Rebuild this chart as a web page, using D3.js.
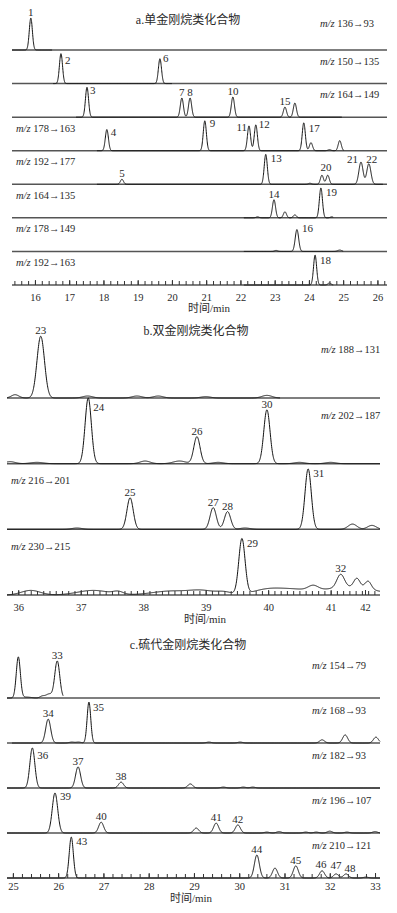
<!DOCTYPE html>
<html>
<head>
<meta charset="utf-8">
<script src="https://cdn.jsdelivr.net/npm/d3@7/dist/d3.min.js"></script>
<style>
  body { margin: 0; background: #fff; }
  text { font-family: "Liberation Serif", "Times New Roman", "Noto Sans CJK SC", serif; fill: #2a2a2a; }
</style>
</head>
<body>
<div id="chart"></div>
<script>
// ---- panel a : 单金刚烷类 ----
var aTitle = "a.单金刚烷类化合物";
var aIons = ["136→93", "150→135", "164→149", "178→163", "192→177", "164→135", "178→149", "192→163"];
var aIonSide = ["r", "r", "r", "l", "l", "l", "l", "l"];
var aSpans = [[15.33, 16.5], [16.53, 20.0], [17.2, 24.96], [17.81, 25.02], [17.81, 26.16], [22.1, 24.71], [22.1, 25.0], [22.1, 24.71]];
// [label, retention time (min), relative intensity (%), width (min, optional)]
var aPeaks = [
  [["1", 15.88, 95]],
  [["2", 16.76, 89], ["6", 19.65, 74]],
  [["3", 17.52, 89], ["7", 20.29, 57], ["8", 20.53, 57], ["10", 21.78, 60], ["15", 23.30, 30], ["", 23.59, 42]],
  [["4", 18.10, 63], ["9", 20.96, 89], ["11", 22.25, 74], ["12", 22.45, 77], ["17", 23.85, 83], ["", 24.06, 24], ["", 24.6, 3], ["", 24.9, 30]],
  [["5", 18.54, 15], ["13", 22.74, 89], ["", 24.03, 3], ["20", 24.38, 27], ["", 24.55, 27], ["21", 25.52, 66, 0.06], ["22", 25.75, 61, 0.06]],
  [["", 22.5, 3], ["14", 22.98, 54], ["", 23.30, 18], ["", 23.59, 9], ["19", 24.35, 89], ["", 24.67, 3]],
  [["", 23.04, 3], ["16", 23.65, 65, 0.05], ["", 24.9, 4, 0.06]],
  [["18", 24.18, 89], ["", 24.6, 6]]
];
var aTicks = [16, 17, 18, 19, 20, 21, 22, 23, 24, 25, 26];

// ---- panel b : 双金刚烷类 ----
var bTitle = "b.双金刚烷类化合物";
var bIons = ["188→131", "202→187", "216→201", "230→215"];
var bIonSide = ["r", "r", "l", "l"];
var bSpans = [[35.82, 40.19], [35.82, 41.79], [35.82, 41.79], [35.82, 41.79]];
var bPeaks = [
  [["", 35.95, 5, 0.06], ["23", 36.36, 94, 0.06], ["", 37.11, 3, 0.08], ["", 37.9, 3, 0.08], ["", 38.24, 3, 0.08], ["", 39.0, 2, 0.08], ["", 39.98, 4, 0.08]],
  [["", 35.87, 3, 0.08], ["", 36.3, 2, 0.1], ["24", 37.12, 100], ["", 38.03, 4, 0.08], ["", 38.58, 4, 0.1], ["26", 38.86, 41], ["", 39.2, 2, 0.08], ["30", 39.98, 82], ["", 40.5, 2, 0.08], ["", 41.0, 2, 0.08]],
  [["", 36.94, 2, 0.08], ["25", 37.79, 48], ["27", 39.12, 33], ["28", 39.35, 27], ["", 39.63, 2, 0.08], ["31", 40.64, 92], ["", 41.35, 8, 0.07], ["", 41.66, 6, 0.07]],
  [["", 36.2, 7, 0.15], ["", 37.2, 7, 0.25], ["", 37.6, 4, 0.08], ["", 38.45, 6, 0.3], ["", 38.95, 6, 0.2], ["", 39.3, 4, 0.12],
   ["29", 39.58, 84], ["", 39.95, 6, 0.22], ["", 40.35, 8, 0.3], ["", 40.72, 7, 0.08], ["", 41.3, 12, 0.4],
   ["32", 41.16, 20, 0.06], ["", 41.42, 14, 0.05], ["", 41.6, 12, 0.05]]
];
var bTickPos = [36, 37, 38, 39, 40, 41, 41.55];
var bTickText = ["36", "37", "38", "39", "40", "41", "42"];

// ---- panel c : 硫代金刚烷类 ----
var cTitle = "c.硫代金刚烷类化合物";
var cIons = ["154→79", "168→93", "182→93", "196→107", "210→121"];
var cIonSide = ["r", "r", "r", "r", "r"];
var cSpans = [[24.87, 26.11], [24.98, 33.11], [24.87, 33.11], [24.87, 33.11], [24.87, 33.11]];
var cPeaks = [
  [["", 25.12, 91, 0.045], ["", 25.3, 2, 0.1], ["", 25.65, 4, 0.05], ["", 25.8, 9, 0.07], ["33", 25.98, 82]],
  [["34", 25.78, 53], ["", 26.3, 2], ["", 26.45, 2], ["35", 26.68, 91, 0.04], ["", 29.33, 2], ["", 30.02, 2], ["", 31.83, 7], ["", 32.34, 18], ["", 33.02, 13]],
  [["36", 25.43, 89], ["37", 26.44, 47], ["38", 27.39, 13], ["", 28.92, 9], ["", 29.65, 2], ["", 30.09, 2], ["", 30.3, 2]],
  [["39", 25.93, 89, 0.06], ["40", 26.95, 24], ["", 29.05, 11], ["41", 29.49, 22], ["42", 29.97, 18], ["", 30.61, 2], ["", 30.88, 3], ["", 31.47, 2], ["", 31.7, 2], ["", 32.0, 4], ["", 32.38, 2], ["", 33.0, 3]],
  [["43", 26.29, 91, 0.045], ["44", 30.39, 51], ["", 30.79, 22], ["45", 31.25, 27], ["46", 31.83, 16], ["47", 32.14, 9], ["48", 32.36, 9], ["", 32.8, 2]]
];
var cTicks = [25, 26, 27, 28, 29, 30, 31, 32, 33];

var axisTitle = "时间/min";

// label placement next to the apex (layout only)
var labelPos = {
  "2": [4, 10, "start"], "6": [3, 3, "start"], "3": [3, 7, "start"], "4": [4, 6, "start"], "9": [5, 6, "start"],
  "11": [-2, 5, "end"], "12": [3, 3, "start"], "17": [5, 9, "start"], "13": [5, 8, "start"], "20": [4, -4, "middle"],
  "21": [-3, 1, "end"], "22": [3, -1, "middle"], "19": [5, 8, "start"], "16": [5, 2, "start"], "18": [5, 9, "start"],
  "24": [5, 13, "start"], "31": [5, 8, "start"], "29": [5, 9, "start"],
  "35": [4, 9, "start"], "36": [5, 11, "start"], "39": [5, 7, "start"], "43": [5, 8, "start"],
  "46": [-1, -3, "middle"], "47": [0, -5, "middle"], "48": [4, -2, "middle"]
};

var svg = d3.select("#chart")
            .append("svg")
            .attr("width", 397)
            .attr("height", 913);

var panels = [
  {title: aTitle, ions: aIons, side: aIonSide, spans: aSpans, peaks: aPeaks,
   domain: [15.33, 26.28], xr: [12, 387], top: 50, axisY: 285, rowH: 33.6, sigma: 0.045,
   titleXY: [188, 24], ionX: 320, ionDy: 19, ticks: aTicks, tickText: null, pad: 9,
   minor: d3.range(15.4, 26.25, 0.2), xlab: [209, 312]},
  {title: bTitle, ions: bIons, side: bIonSide, spans: bSpans, peaks: bPeaks,
   domain: [35.82, 41.79], xr: [7, 380], top: 398, axisY: 595, rowH: 65.7, sigma: 0.05,
   titleXY: [196, 335], ionX: 321, ionDy: 45, ticks: bTickPos, tickText: bTickText, pad: 9,
   minor: d3.range(35.9, 41.75, 0.1), xlab: [205, 623]},
  {title: cTitle, ions: cIons, side: cIonSide, spans: cSpans, peaks: cPeaks,
   domain: [24.87, 33.11], xr: [7, 380], top: 698, axisY: 878, rowH: 45, sigma: 0.055,
   titleXY: [188, 649], ionX: 312, ionDy: 29, ticks: cTicks, tickText: null, pad: 5,
   minor: d3.range(25, 33.05, 0.2), xlab: [191, 902]}
];

panels.forEach(drawPanel);

function drawPanel(p) {
  var g = svg.append("g");
  var x = d3.scaleLinear().domain(p.domain).range(p.xr);
  var rowY = d3.scaleLinear().domain([0, p.ions.length - 1]).range([p.top, p.axisY]);

  g.append("text")
   .attr("x", p.titleXY[0]).attr("y", p.titleXY[1])
   .attr("text-anchor", "middle")
   .style("font-size", "12px")
   .text(p.title);

  p.ions.forEach(function(ion, i) {
    var y0 = rowY(i);
    var y = d3.scaleLinear().domain([0, 100]).range([y0, y0 - p.rowH]);
    var peaks = p.peaks[i];

    function signal(t) {
      var v = 0;
      peaks.forEach(function(pk) {
        var s = pk[3] || p.sigma;
        v += pk[2] * Math.exp(-0.5 * Math.pow((t - pk[1]) / s, 2));
      });
      return v;
    }

    // row baseline
    g.append("line")
     .attr("x1", p.xr[0]).attr("x2", p.xr[1])
     .attr("y1", y0).attr("y2", y0)
     .attr("stroke", "#555")
     .attr("stroke-width", 1.5);

    var ts = d3.range(p.spans[i][0], p.spans[i][1], 0.004);
    ts.push(p.spans[i][1]);
    g.append("path")
     .datum(ts)
     .attr("fill", "none")
     .attr("stroke", "#111")
     .attr("stroke-width", 1)
     .attr("stroke-linejoin", "round")
     .attr("d", d3.line().x(function(t) { return x(t); }).y(function(t) { return y(signal(t)); }));

    // peak numbers
    peaks.forEach(function(pk) {
      if (!pk[0]) return;
      var pos = labelPos[pk[0]] || [0, -2, "middle"];
      g.append("text")
       .attr("x", x(pk[1]) + pos[0])
       .attr("y", y(signal(pk[1])) + pos[1])
       .attr("text-anchor", pos[2])
       .style("font-size", "11px")
       .text(pk[0]);
    });

    // ion transition label
    var lab = g.append("text")
     .attr("x", p.side[i] == "r" ? p.ionX : p.xr[0] + 4)
     .attr("y", y0 - p.ionDy - (i == 0 && p.top == 50 ? 4 : 0))
     .style("font-size", "10.5px");
    lab.append("tspan").style("font-style", "italic").text("m/z");
    lab.append("tspan").text(" " + ion);
  });

  // time axis: ticks point up, labels below
  var major = d3.axisBottom(x)
                .tickValues(p.ticks)
                .tickSizeInner(-5)
                .tickSizeOuter(0)
                .tickPadding(p.pad)
                .tickFormat(function(d, k) { return p.tickText ? p.tickText[k] : d; });
  var minor = d3.axisBottom(x)
                .tickValues(p.minor)
                .tickSizeInner(-4)
                .tickSizeOuter(0)
                .tickFormat("");
  var ax = g.append("g").attr("transform", "translate(0," + p.axisY + ")").call(minor);
  ax.select(".domain").remove();
  ax.selectAll(".tick line").attr("stroke", "#333");
  var ax2 = g.append("g").attr("transform", "translate(0," + p.axisY + ")").call(major);
  ax2.select(".domain").remove();
  ax2.selectAll(".tick line").attr("stroke", "#333");
  ax2.selectAll("text")
     .style("font-family", "'Liberation Serif', serif")
     .style("font-size", "10.5px")
     .attr("fill", "#2a2a2a");

  g.append("text")
   .attr("x", p.xlab[0]).attr("y", p.xlab[1])
   .attr("text-anchor", "middle")
   .style("font-size", "11px")
   .text(axisTitle);
}
</script>
</body>
</html>
